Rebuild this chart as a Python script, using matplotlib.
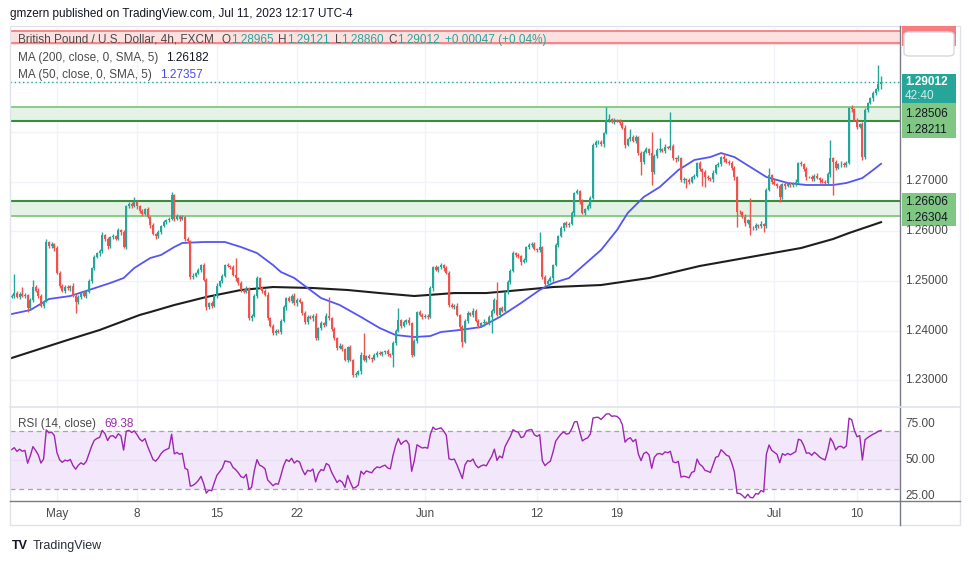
import numpy as np
import pandas as pd
import matplotlib
matplotlib.use("Agg")
import matplotlib.pyplot as plt
from matplotlib.patches import FancyBboxPatch, Rectangle

plt.rcParams['font.family'] = ['Liberation Sans', 'DejaVu Sans']

# ---- data (4h GBP/USD candles) ----
first_open = 1.2468
closes = [
    1.2470, 1.2476, 1.2468, 1.2474, 1.2470, 1.2472, 1.2445, 1.2462, 1.2488, 1.2480,
    1.2470, 1.2450, 1.2460, 1.2578, 1.2570, 1.2574, 1.2566, 1.2516, 1.2490, 1.2480,
    1.2488, 1.2485, 1.2490, 1.2470, 1.2457, 1.2468, 1.2475, 1.2470, 1.2478, 1.2500,
    1.2525, 1.2548, 1.2556, 1.2560, 1.2592, 1.2585, 1.2570, 1.2588, 1.2590, 1.2585,
    1.2602, 1.2598, 1.2568, 1.2650, 1.2655, 1.2650, 1.2658, 1.2650, 1.2640, 1.2635,
    1.2645, 1.2628, 1.2612, 1.2595, 1.2590, 1.2598, 1.2610, 1.2618, 1.2622, 1.2625,
    1.2672, 1.2625, 1.2630, 1.2625, 1.2628, 1.2585, 1.2580, 1.2508, 1.2510, 1.2515,
    1.2522, 1.2532, 1.2502, 1.2447, 1.2455, 1.2450, 1.2470, 1.2490, 1.2500, 1.2510,
    1.2532, 1.2530, 1.2528, 1.2512, 1.2505, 1.2495, 1.2482, 1.2478, 1.2485, 1.2425,
    1.2430, 1.2470, 1.2505, 1.2485, 1.2480, 1.2472, 1.2425, 1.2410, 1.2395, 1.2400,
    1.2398, 1.2420, 1.2447, 1.2466, 1.2460, 1.2470, 1.2455, 1.2462, 1.2458, 1.2435,
    1.2417, 1.2428, 1.2425, 1.2430, 1.2385, 1.2405, 1.2415, 1.2412, 1.2430, 1.2425,
    1.2403, 1.2385, 1.2365, 1.2370, 1.2362, 1.2341, 1.2367, 1.2340, 1.2311, 1.2313,
    1.2318, 1.2351, 1.2340, 1.2348, 1.2345, 1.2342, 1.2350, 1.2355, 1.2353, 1.2356,
    1.2358, 1.2352, 1.2350, 1.2375, 1.2400, 1.2421, 1.2410, 1.2418, 1.2422, 1.2415,
    1.2351, 1.2380, 1.2437, 1.2432, 1.2428, 1.2430, 1.2428, 1.2485, 1.2528, 1.2522,
    1.2527, 1.2532, 1.2525, 1.2516, 1.2451, 1.2448, 1.2450, 1.2431, 1.2407, 1.2378,
    1.2420, 1.2435, 1.2432, 1.2440, 1.2420, 1.2410, 1.2415, 1.2418, 1.2415, 1.2428,
    1.2440, 1.2462, 1.2432, 1.2445, 1.2440, 1.2477, 1.2498, 1.2520, 1.2556, 1.2552,
    1.2550, 1.2538, 1.2542, 1.2568, 1.2573, 1.2575, 1.2565, 1.2562, 1.2568, 1.2508,
    1.2493, 1.2500, 1.2505, 1.2532, 1.2573, 1.2590, 1.2606, 1.2617, 1.2612, 1.2615,
    1.2636, 1.2677, 1.2680, 1.2659, 1.2637, 1.2645, 1.2650, 1.2667, 1.2773, 1.2779,
    1.2780, 1.2775, 1.2797, 1.2823, 1.2825, 1.2820, 1.2823, 1.2822, 1.2818, 1.2808,
    1.2773, 1.2785, 1.2790, 1.2782, 1.2790, 1.2757, 1.2739, 1.2760, 1.2765, 1.2758,
    1.2719, 1.2752, 1.2763, 1.2765, 1.2762, 1.2770, 1.2768, 1.2772, 1.2747, 1.2745,
    1.2748, 1.2703, 1.2705, 1.2703, 1.2700, 1.2710, 1.2712, 1.2737, 1.2725, 1.2720,
    1.2710, 1.2708, 1.2705, 1.2718, 1.2733, 1.2735, 1.2749, 1.2745, 1.2740, 1.2738,
    1.2727, 1.2709, 1.2639, 1.2638, 1.2629, 1.2616, 1.2622, 1.2607, 1.2606, 1.2612,
    1.2610, 1.2615, 1.2610, 1.2683, 1.2713, 1.2700, 1.2695, 1.2690, 1.2668, 1.2694,
    1.2690, 1.2695, 1.2692, 1.2696, 1.2700, 1.2737, 1.2735, 1.2725, 1.2709, 1.2710,
    1.2705, 1.2712, 1.2708, 1.2703, 1.2700, 1.2698, 1.2715, 1.2747, 1.2740, 1.2727,
    1.2735, 1.2736, 1.2733, 1.2738, 1.2848, 1.2845, 1.2824, 1.2810, 1.2815, 1.2749,
    1.2844, 1.2857, 1.2868, 1.2878, 1.2886, 1.28965, 1.29012,
]
# wick lengths beyond the body, in pips
upper_pips = [
    3, 38, 4, 3, 14, 3, 2, 4, 14, 3, 5, 4, 2, 6, 3, 4, 2, 5, 3, 4,
    3, 4, 2, 5, 3, 4, 2, 5, 3, 4, 3, 5, 2, 4, 6, 3, 4, 3, 5, 2,
    4, 3, 5, 2, 4, 3, 11, 4, 3, 5, 2, 4, 3, 5, 2, 4, 3, 5, 3, 4,
    7, 3, 4, 2, 5, 3, 4, 3, 5, 2, 4, 3, 5, 3, 2, 4, 3, 5, 2, 4,
    3, 4, 2, 5, 34, 3, 4, 2, 5, 3, 4, 3, 5, 2, 4, 3, 5, 2, 4, 3,
    4, 3, 5, 2, 4, 3, 5, 3, 4, 2, 5, 3, 4, 3, 5, 2, 4, 3, 5, 38,
    3, 4, 2, 5, 3, 4, 3, 5, 2, 4, 3, 5, 44, 3, 4, 2, 5, 3, 4, 3,
    3, 4, 2, 5, 3, 24, 3, 4, 2, 5, 3, 4, 2, 5, 3, 4, 3, 5, 2, 4,
    3, 4, 2, 5, 3, 4, 3, 5, 2, 4, 3, 4, 2, 5, 3, 4, 3, 5, 2, 4,
    3, 4, 36, 3, 5, 2, 4, 3, 5, 2, 4, 3, 5, 2, 4, 3, 4, 2, 30, 3,
    4, 3, 5, 2, 4, 3, 5, 2, 4, 3, 5, 2, 4, 3, 5, 2, 4, 3, 5, 4,
    3, 4, 2, 27, 11, 3, 5, 2, 4, 3, 5, 2, 16, 3, 4, 2, 5, 3, 4, 3,
    42, 3, 4, 22, 3, 5, 2, 68, 4, 3, 5, 2, 4, 3, 5, 2, 4, 3, 5, 2,
    3, 4, 2, 5, 3, 4, 3, 8, 2, 4, 3, 5, 2, 4, 3, 5, 2, 45, 3, 4,
    3, 5, 2, 4, 14, 3, 5, 2, 4, 3, 5, 2, 4, 3, 5, 2, 4, 3, 5, 2,
    4, 3, 5, 2, 4, 3, 5, 36, 3, 4, 2, 5, 3, 4, 2, 5, 3, 4, 2, 5,
    3, 4, 2, 5, 3, 37, 11,
]
lower_pips = [
    3, 4, 2, 5, 3, 4, 8, 3, 4, 2, 5, 3, 4, 2, 4, 3, 5, 3, 4, 2,
    4, 3, 5, 2, 22, 3, 4, 2, 5, 3, 4, 3, 2, 5, 3, 4, 6, 3, 4, 2,
    3, 5, 2, 4, 3, 4, 2, 5, 3, 4, 3, 2, 5, 3, 6, 3, 4, 2, 3, 4,
    3, 4, 2, 5, 3, 4, 3, 5, 4, 3, 2, 5, 3, 6, 3, 4, 2, 5, 3, 4,
    3, 2, 4, 3, 5, 3, 4, 2, 3, 4, 5, 3, 4, 2, 5, 3, 4, 3, 4, 3,
    3, 4, 2, 5, 3, 4, 3, 5, 2, 4, 3, 4, 2, 5, 3, 4, 3, 5, 2, 4,
    4, 3, 5, 2, 4, 3, 5, 2, 5, 4, 3, 5, 2, 4, 3, 5, 2, 4, 3, 4,
    3, 4, 3, 23, 4, 2, 5, 3, 4, 3, 5, 2, 4, 3, 5, 2, 4, 3, 5, 3,
    4, 3, 5, 2, 4, 3, 4, 2, 5, 11, 3, 4, 2, 5, 3, 4, 3, 5, 2, 4,
    33, 4, 3, 5, 2, 4, 3, 5, 2, 4, 3, 5, 2, 4, 3, 5, 2, 4, 3, 5,
    3, 4, 2, 5, 3, 4, 2, 5, 3, 4, 2, 5, 3, 4, 2, 5, 3, 4, 2, 3,
    4, 3, 5, 2, 4, 3, 5, 2, 4, 3, 5, 2, 4, 3, 5, 3, 26, 4, 3, 5,
    26, 3, 5, 4, 3, 5, 2, 4, 3, 5, 4, 3, 6, 16, 4, 3, 5, 2, 4, 30,
    21, 4, 3, 5, 2, 4, 3, 5, 2, 4, 3, 5, 31, 4, 3, 5, 2, 15, 3, 4,
    4, 3, 12, 4, 3, 5, 2, 4, 9, 3, 5, 2, 4, 3, 5, 2, 4, 3, 5, 2,
    3, 4, 2, 5, 3, 4, 2, 5, 67, 4, 2, 5, 3, 4, 2, 5, 3, 4, 2, 5,
    3, 4, 2, 5, 3, 4, 10,
]
# RSI averages at the left edge of the chart (avg gain, avg loss)
rsi_seed = (0.0008, 0.0006)
# moving averages read at points along the curves (bar index, price)
ma50_idx = [0, 7, 14, 22, 29, 37, 42, 46, 52, 56, 61, 64, 72, 80, 86, 92, 98, 101,
            106, 111, 116, 123, 131, 138, 144, 151, 157, 161, 168, 176, 183, 191, 198,
            203, 209, 221, 227, 231, 237, 243, 250, 256, 262, 266, 271, 277, 283, 291,
            298, 308, 313, 319, 323, 326]
ma50_val = [1.24334, 1.24414, 1.24636, 1.24696, 1.24817, 1.24958, 1.25058, 1.25260,
            1.25461, 1.25521, 1.25682, 1.25763, 1.25783, 1.25783, 1.25682, 1.25561,
            1.25320, 1.25179, 1.25058, 1.24857, 1.24656, 1.24515, 1.24274, 1.24052,
            1.23911, 1.23871, 1.23891, 1.23972, 1.24012, 1.24072, 1.24274, 1.24555,
            1.24817, 1.24958, 1.25058, 1.25622, 1.26024, 1.26366, 1.26688, 1.26889,
            1.27231, 1.27433, 1.27493, 1.27573, 1.27493, 1.27292, 1.27091, 1.26970,
            1.26930, 1.26930, 1.26970, 1.27070, 1.27231, 1.27357]
ma200_idx = [0, 21, 33, 48, 52, 61, 73, 86, 98, 113, 126, 138, 151, 166, 178, 191,
             203, 221, 239, 258, 277, 296, 308, 314, 326]
ma200_val = [1.23449, 1.23811, 1.24012, 1.24314, 1.24374, 1.24515, 1.24676, 1.24817,
             1.24877, 1.24857, 1.24817, 1.24756, 1.24696, 1.24756, 1.24756, 1.24817,
             1.24877, 1.24917, 1.25058, 1.25300, 1.25481, 1.25662, 1.25843, 1.25964,
             1.26182]
tick_idx = [17, 47, 77, 107, 155, 197, 227, 286, 317]
tick_lbl = ['May', '8', '15', '22', 'Jun', '12', '19', 'Jul', '10']
price_ticks = [1.23, 1.24, 1.25, 1.26, 1.27]
zone_hi = (1.28211, 1.28506)
zone_lo = (1.26304, 1.26606)
zone_red = (1.29747, 1.30034)
last_price = 1.29012

W, H = 970, 563
UP, DOWN = '#26a69a', '#ef5350'
GRID = '#f0f3fa'
TXT = '#131722'

closes = np.array(closes)
opens = np.r_[first_open, closes[:-1]]
highs = np.maximum(opens, closes) + np.array(upper_pips) * 1e-4
lows = np.minimum(opens, closes) - np.array(lower_pips) * 1e-4
idx = np.arange(len(closes))

# RSI(14) with Wilder smoothing
ag, al = rsi_seed
rsi = [100 - 100 / (1 + ag / al)]
for dlt in np.diff(closes):
    ag = (ag * 13 + max(dlt, 0)) / 14
    al = (al * 13 + max(-dlt, 0)) / 14
    rsi.append(100 - 100 / (1 + ag / al))

fig = plt.figure(figsize=(W/100, H/100), dpi=100)
fig.patch.set_facecolor('white')


def fx(x):
    return x / W


def fy(y):
    return 1 - y / H


ax = fig.add_axes([fx(10), fy(406), fx(890), (406 - 28) / H])
ax2 = fig.add_axes([fx(10), fy(501), fx(890), (501 - 408) / H], sharex=ax)

ax.set_xlim(-0.6, 333.1)
ax.set_ylim(1.22483, 1.30089)
ax2.set_ylim(21.7, 85.9)

for a in (ax, ax2):
    for s in a.spines.values():
        s.set_visible(False)
    a.tick_params(length=0, labelsize=8.5, colors='#4a4a4a')
    for t in tick_idx:
        a.axvline(t, color=GRID, lw=1, zorder=0)

for p in [1.23, 1.24, 1.25, 1.26, 1.27, 1.28, 1.29, 1.30]:
    ax.axhline(p, color=GRID, lw=1, zorder=0)
ax.set_yticks([])
ax.tick_params(labelbottom=False)

# zones
ax.axhspan(*zone_hi, color='#e4f3e5', zorder=1, lw=0)
ax.axhline(zone_hi[1], color='#81c784', lw=1.3, zorder=1.5)
ax.axhline(zone_hi[0], color='#388e3c', lw=1.5, zorder=1.5)
ax.axhspan(*zone_lo, color='#e4f3e5', zorder=1, lw=0)
ax.axhline(zone_lo[1], color='#388e3c', lw=1.5, zorder=1.5)
ax.axhline(zone_lo[0], color='#81c784', lw=1.3, zorder=1.5)
ax.axhspan(*zone_red, color='#fde1e1', zorder=1, lw=0)
ax.axhline(zone_red[1], color='#f77c80', lw=1.3, zorder=1.5)
ax.axhline(zone_red[0] + 0.0004, color='#f77c80', lw=1.3, zorder=1.5)

# moving averages
ax.plot(ma200_idx, ma200_val, color='#1e1e1e', lw=1.5, zorder=2)
ax.plot(ma50_idx, ma50_val, color='#5555f5', lw=1.3, zorder=2)

# candles
cols = np.where(closes >= opens, UP, DOWN)
ax.vlines(idx, lows, highs, colors=cols, lw=1.0, zorder=3)
body = np.maximum(np.abs(closes - opens), 0.00006)
ax.bar(idx, body, bottom=np.minimum(opens, closes), width=0.8, color=cols,
       lw=0, zorder=4)

ax.axhline(last_price, color=UP, lw=1, ls=(0, (1, 2)), zorder=5)

# RSI pane
ax2.axhspan(30, 70, color='#f3e7fc', lw=0, zorder=0)
ax2.axhline(70, color='#a5a5a5', lw=0.9, ls=(0, (4, 3)), zorder=1)
ax2.axhline(30, color='#a5a5a5', lw=0.9, ls=(0, (4, 3)), zorder=1)
ax2.axhline(50, color='#e6e0f0', lw=0.8, zorder=1)
ax2.plot(idx, rsi, color='#9c27b0', lw=1.0, zorder=3)
ax2.set_yticks([])
ax2.set_xticks(tick_idx)
ax2.set_xticklabels(tick_lbl)
ax2.tick_params(axis='x', pad=5)

# frame and separators
fig.add_artist(Rectangle((fx(10), fy(525)), fx(950), (525 - 26) / H, fill=False,
                         ec='#e0e3eb', lw=1, transform=fig.transFigure))
fig.add_artist(plt.Line2D([fx(900), fx(900)], [fy(525), fy(26)], color='#787b86', lw=1))
fig.add_artist(plt.Line2D([fx(10), fx(960)], [fy(501), fy(501)], color='#787b86', lw=1))
fig.add_artist(plt.Line2D([fx(10), fx(960)], [fy(407), fy(407)], color='#e0e3eb', lw=1.2))


# price axis labels
def yp(p):
    return 181.5 - (p - 1.27) * 4970


for p in price_ticks:
    fig.text(fx(905), fy(yp(p)), f'{p:.5f}', fontsize=8.5, color='#4a4a4a', va='center')
for v, y in [(75, 424), (50, 460), (25, 496)]:
    fig.text(fx(905), fy(y), f'{v:.2f}', fontsize=8.5, color='#4a4a4a', va='center')


def label_box(y0, y1, col):
    fig.add_artist(Rectangle((fx(902), fy(y1)), fx(54), (y1 - y0) / H, fc=col, ec='none',
                             transform=fig.transFigure))


label_box(193, 226, '#81c784')
fig.text(fx(905), fy(202), '1.26606', fontsize=8.5, color=TXT, va='center')
fig.text(fx(905), fy(218), '1.26304', fontsize=8.5, color=TXT, va='center')
label_box(103, 138, '#81c784')
fig.text(fx(905), fy(114), '1.28506', fontsize=8.5, color=TXT, va='center')
fig.text(fx(905), fy(130), '1.28211', fontsize=8.5, color=TXT, va='center')
label_box(74, 103, UP)
fig.text(fx(905), fy(82), '1.29012', fontsize=8.5, color='white', va='center', weight='bold')
fig.text(fx(905), fy(96), '42:40', fontsize=8.5, color='#cdeeea', va='center')
label_box(26, 46, '#f77c80')
fig.add_artist(FancyBboxPatch((fx(904), fy(56)), fx(50), 24 / H,
                              boxstyle='round,pad=0,rounding_size=0.006', fc='white',
                              ec='#d6d8de', lw=1, transform=fig.transFigure))

# legends
rend = fig.canvas.get_renderer()


def chain(x, y, parts, size=8.5):
    for s, col, gap in parts:
        t = fig.text(fx(x), fy(y), s, color=col, fontsize=size, va='center')
        x += t.get_window_extent(renderer=rend).width + gap


fig.text(fx(10), fy(14), 'gmzern published on TradingView.com, Jul 11, 2023 12:17 UTC-4',
         fontsize=8.5, color=TXT, va='center')
G = '#4a4a4a'
chain(18, 40, [('British Pound / U.S. Dollar, 4h, FXCM', G, 8), ('O', G, 0),
               ('1.28965', UP, 5), ('H', G, 0), ('1.29121', UP, 5), ('L', G, 0),
               ('1.28860', UP, 5), ('C', G, 0), ('1.29012', UP, 5),
               ('+0.00047 (+0.04%)', UP, 0)])
chain(18, 58, [('MA (200, close, 0, SMA, 5)', G, 8), ('1.26182', TXT, 0)])
chain(18, 75, [('MA (50, close, 0, SMA, 5)', G, 8), ('1.27357', '#4a4af0', 0)])
chain(18, 424, [('RSI (14, close)', G, 8), ('69.38', '#9c27b0', 0)])

fig.text(fx(12), fy(546), 'TV', fontsize=9, color=TXT, va='center', weight='heavy')
fig.text(fx(33), fy(546), 'TradingView', fontsize=9, color='#2a2e39', va='center')

fig.savefig('out.png', dpi=100)
